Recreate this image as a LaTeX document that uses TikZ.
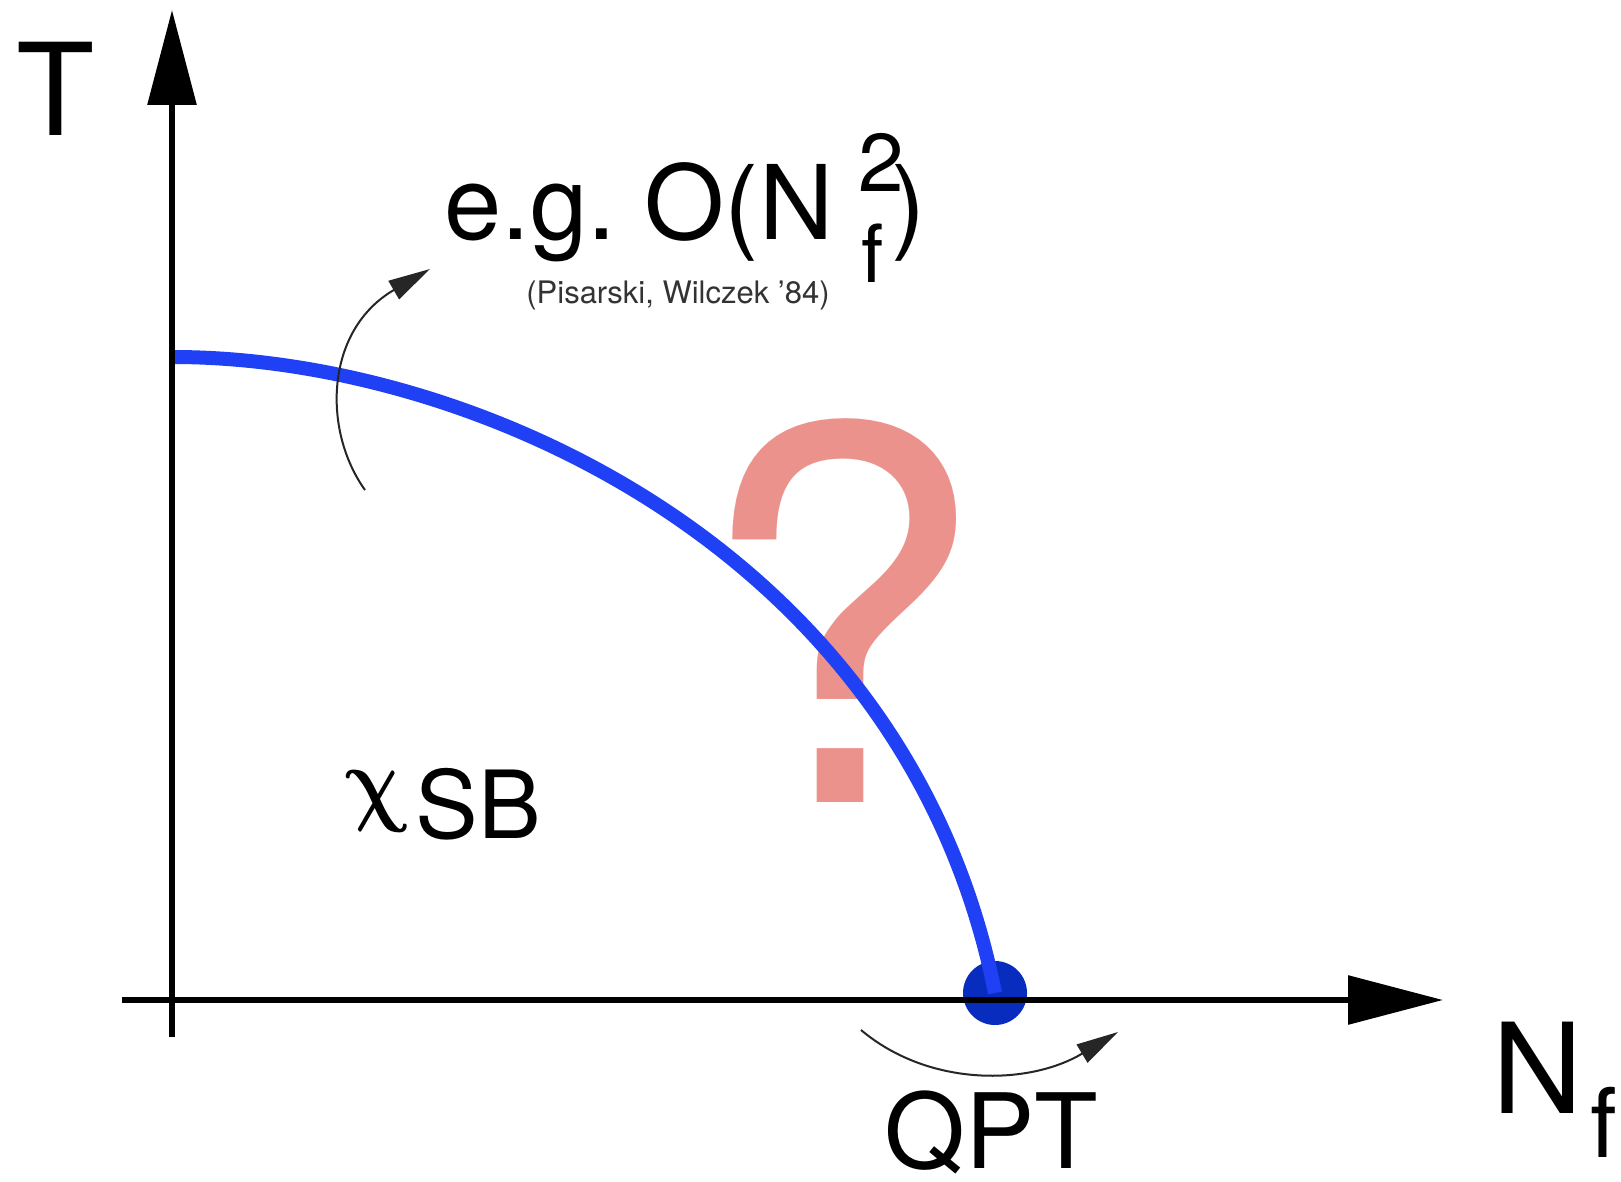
\RequirePackage{fix-cm}
\documentclass[tikz,border=0pt]{standalone}
\usepackage{bm}
\usepackage{fontspec}
\setmainfont{TeX Gyre Heros}
\usetikzlibrary{arrows.meta}

\definecolor{lineblue}{RGB}{32,64,245}
\definecolor{dotblue}{RGB}{8,45,190}
\definecolor{qpink}{RGB}{236,146,141}

\begin{document}
\begin{tikzpicture}[
        x=0.5pt, y=-0.5pt,
        axis/.style={line width=3pt, -{Triangle[length=47.5pt,width=24pt]}},
        flow/.style={line width=1pt, draw=black!85, -{Triangle[length=21pt,width=10.5pt]}},
        lbl/.style={inner sep=0pt, font=\fontsize{#1}{#1}\selectfont},
        ]
        \fill[white] (0,0) rectangle (1621,1182);
        \useasboundingbox (0,0) rectangle (1621,1182);
        % question mark behind the line
        \node[lbl=259pt, text=qpink, anchor=base] (qm) at (840,802) {?};
        % critical line and quantum phase transition
        \node[circle, fill=dotblue, minimum size=32pt, inner sep=0pt] (qpt) at (995,993) {};
        \coordinate (tc) at (173,357);
        \draw[line width=7pt, lineblue] (tc) .. controls (473,357) and (907,550) .. (qpt.center);
        % axes
        \coordinate (ybot) at (172,1037);
        \coordinate (ytip) at (172,10);
        \coordinate (xlft) at (122,1000);
        \coordinate (xtip) at (1443,1000);
        \draw[axis] (ybot) -- (ytip);
        \draw[axis] (xlft) -- (xtip);
        \node[lbl=64pt] (tlab) at (56,89) {T};
        \node[lbl=62.7pt, anchor=base west] (nlab) at (1492,1113) {N};
        \node[lbl=48pt, anchor=base west] (nsub) at (1590,1157) {f};
        % shifts of the line
        \coordinate (a1) at (365,490);
        \coordinate (a2) at (430,269);
        \draw[flow] (a1) .. controls (322,430) and (325,330) .. (a2);
        \coordinate (b1) at (861,1030);
        \coordinate (b2) at (1118,1032);
        \draw[flow] (b1) .. controls (930,1088) and (1030,1085) .. (b2);
        % labels
        \node[lbl=51.5pt, anchor=base west] (eg) at (444,240) {e.g.\ O(N};
        \node[lbl=41pt, anchor=base west] (egsup) at (858,192) {2};
        \node[lbl=40pt, anchor=base west] (egsub) at (861,283) {f};
        \node[lbl=51.5pt, anchor=base west] (egpar) at (891,240) {)};
        \node[lbl=15.5pt, text=black!80, anchor=base] (cite) at (678,303) {(Pisarski, Wilczek ’84)};
        \begin{scope}[shift={(356,833)}, xscale=0.82, xslant=-0.3]
            \node[lbl=48pt, anchor=south west, transform shape] (chi) at (0,0) {$\bm{\chi}$};
        \end{scope}
        \node[lbl=47pt, anchor=base west] (sb) at (415,838) {SB};
        \node[lbl=52pt, anchor=base] (qptlab) at (991,1168) {QPT};
\end{tikzpicture}
\end{document}
